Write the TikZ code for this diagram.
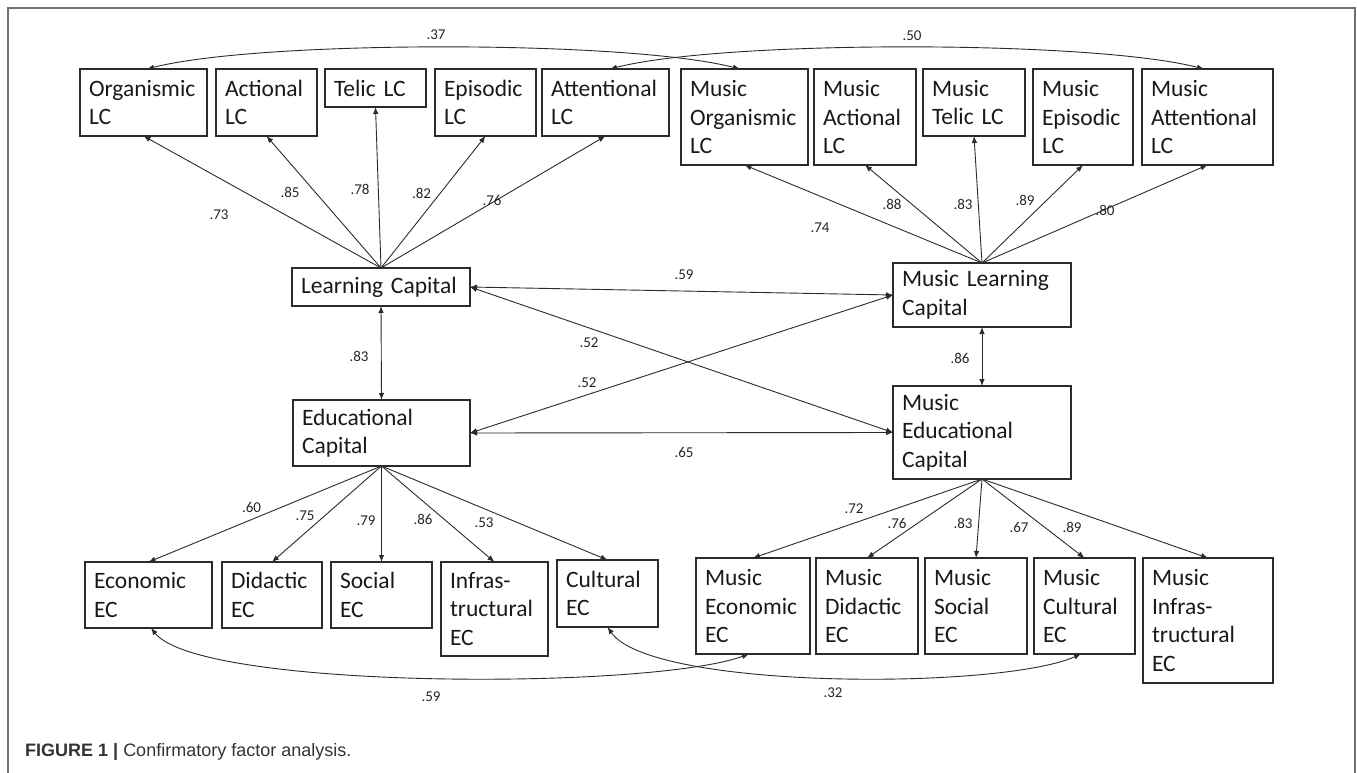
\documentclass[tikz,border=0pt]{standalone}
\usepackage{fontspec}
\usetikzlibrary{arrows.meta}
\newfontfamily\boxfont{Carlito}
\newfontfamily\capfont{Liberation Sans}
\definecolor{ink}{HTML}{2B2B2B}
\definecolor{framec}{HTML}{707070}
\tikzset{
  box/.style={draw=ink, line width=1.1pt, anchor=north west, align=left,
    inner xsep=9pt, inner ysep=0pt, outer sep=0pt,
    font=\boxfont\fontsize{23.5}{28.5}\selectfont, text=black!90},
  lbl/.style={font=\boxfont\fontsize{15}{18}\selectfont, text=black!85, inner sep=0pt},
  arr/.style={draw=ink, line width=0.9pt, -{Latex[length=7pt,width=5.5pt]}},
  dbl/.style={draw=ink, line width=0.9pt, {Latex[length=7pt,width=5.5pt]}-{Latex[length=7pt,width=5.5pt]}},
}
\begin{document}
\begin{tikzpicture}[x=1pt,y=-1pt]
\useasboundingbox (0,0) rectangle (1357,773);
% frame
\draw[framec, line width=2pt] (7.5,790) -- (7.5,8.5) -- (1355,8.5) -- (1355,790);

% top row (LC)
\node[box, text width=109pt, minimum height=67pt] (org) at (80,69) {Organismic\\LC};
\node[box, text width=83pt, minimum height=67pt] (act) at (216,69) {Actional\\LC};
\node[box, text width=83pt, minimum height=38pt] (tel) at (325,69) {Telic LC};
\node[box, text width=83pt, minimum height=67pt] (epi) at (435,69) {Episodic\\LC};
\node[box, text width=109pt, minimum height=67pt] (att) at (542,69) {Attentional\\LC};
% top row (Music LC)
\node[box, text width=109pt, minimum height=96pt] (mor) at (681,69) {Music\\Organismic\\LC};
\node[box, text width=84pt, minimum height=96pt] (mac) at (814,69) {Music\\Actional\\LC};
\node[box, text width=84pt, minimum height=67pt] (mte) at (923,69) {Music\\Telic LC};
\node[box, text width=82pt, minimum height=96pt] (mep) at (1033,69) {Music\\Episodic\\LC};
\node[box, text width=113pt, minimum height=96pt] (mat) at (1142,69) {Music\\Attentional\\LC};

% middle
\node[box, text width=160pt, minimum height=38pt] (lc) at (292,268) {Learning Capital};
\node[box, text width=160pt, minimum height=64pt] (mlc) at (893,263) {Music Learning\\Capital};
\node[box, text width=159pt, minimum height=66pt] (ec) at (293,400) {Educational\\Capital};
\node[box, text width=160pt, minimum height=93pt] (mec) at (893,386) {Music\\Educational\\Capital};

% bottom row (EC)
\node[box, text width=109pt, minimum height=66pt] (eco) at (85,562) {Economic\\EC};
\node[box, text width=82pt, minimum height=66pt] (did) at (222,562) {Didactic\\EC};
\node[box, text width=83pt, minimum height=66pt] (soc) at (331,562) {Social\\EC};
\node[box, text width=89pt, minimum height=94pt] (inf) at (441,562) {Infras-\\tructural\\EC};
\node[box, text width=83pt, minimum height=67pt] (cul) at (557,560) {Cultural\\EC};
% bottom row (Music EC)
\node[box, text width=96pt, minimum height=96pt] (meco) at (696,558) {Music\\Economic\\EC};
\node[box, text width=84pt, minimum height=96pt] (mdid) at (816,558) {Music\\Didactic\\EC};
\node[box, text width=84pt, minimum height=96pt] (msoc) at (925,558) {Music\\Social\\EC};
\node[box, text width=83pt, minimum height=96pt] (mcul) at (1034,558) {Music\\Cultural\\EC};
\node[box, text width=112pt, minimum height=125pt] (minf) at (1143,558) {Music\\Infras-\\tructural\\EC};

% loadings LC
\foreach \t in {org,act,tel,epi,att} \draw[arr] (lc.north) -- (\t.south);
\foreach \t in {mor,mac,mte,mep,mat} \draw[arr] (mlc.north) -- (\t.south);
% loadings EC
\foreach \t in {eco,did,soc,inf,cul} \draw[arr] (ec.south) -- (\t.north);
\foreach \t in {meco,mdid,msoc,mcul,minf} \draw[arr] (mec.south) -- (\t.north);

% correlations among factors
\draw[dbl] (lc.south) -- (ec.north);
\draw[dbl] (mlc.south) -- (mec.north);
\draw[dbl] (lc.east) -- (mlc.west);
\draw[dbl] (lc.east) -- (mec.west);
\draw[dbl] (ec.east) -- (mlc.west);
\draw[dbl] (ec.east) -- (mec.west);

% covariance arcs
\draw[dbl] ([xshift=3.5pt]org.north) .. controls +(113,-29) and +(-113,-29) .. ([xshift=-4.5pt]mor.north);
\draw[dbl] ([xshift=4.5pt]att.north) .. controls +(113,-29) and +(-113,-29) .. ([xshift=-3.5pt]mat.north);
\draw[dbl] ([xshift=2.5pt]eco.south) .. controls +(49,62) and +(-99,36) .. ([xshift=-4pt]meco.south);
\draw[dbl] (cul.south) .. controls +(43,63) and +(-81,36) .. ([xshift=-3.5pt]mcul.south);

% labels
\node[lbl] (l37) at (436,35) {.37};
\node[lbl] (l50) at (912,36) {.50};
\node[lbl] (l73) at (219,215) {.73};
\node[lbl] (l85) at (290,192) {.85};
\node[lbl] (l78) at (360,189) {.78};
\node[lbl] (l82) at (421.5,193) {.82};
\node[lbl] (l76) at (492,200) {.76};
\node[lbl] (l74) at (820,228) {.74};
\node[lbl] (l88) at (892,204) {.88};
\node[lbl] (l83a) at (963,204) {.83};
\node[lbl] (l89a) at (1025,200) {.89};
\node[lbl] (l80) at (1105,210) {.80};
\node[lbl] (l59a) at (684,275) {.59};
\node[lbl] (l52a) at (589,343) {.52};
\node[lbl] (l52b) at (587,383) {.52};
\node[lbl] (l65) at (684,452) {.65};
\node[lbl] (l83b) at (359,356) {.83};
\node[lbl] (l86a) at (960,358) {.86};
\node[lbl] (l60) at (251.5,507) {.60};
\node[lbl] (l75) at (305,516) {.75};
\node[lbl] (l79) at (366,521) {.79};
\node[lbl] (l86b) at (423,519) {.86};
\node[lbl] (l53) at (484,523) {.53};
\node[lbl] (l72) at (854,509) {.72};
\node[lbl] (l76b) at (897,523) {.76};
\node[lbl] (l83c) at (963,523) {.83};
\node[lbl] (l67) at (1019,527) {.67};
\node[lbl] (l89b) at (1072,527) {.89};
\node[lbl] (l59b) at (431,697) {.59};
\node[lbl] (l32) at (833,693) {.32};

% caption
\node[anchor=base west, inner sep=0pt, font=\capfont\fontsize{18}{21}\selectfont, text=black!80] (cap) at (25,756)
  {{\bfseries FIGURE 1 |} Confirmatory factor analysis.};
\end{tikzpicture}
\end{document}
